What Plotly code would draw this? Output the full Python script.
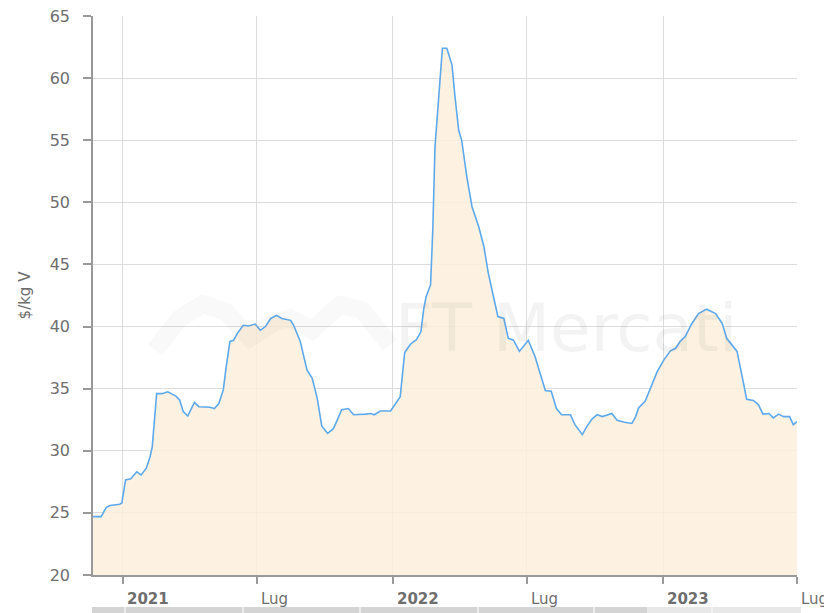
import plotly.graph_objects as go

# ---- data ----
dates = [
    "2020-11-22", "2020-12-03", "2020-12-10", "2020-12-15", "2020-12-28", "2020-12-31",
    "2021-01-05", "2021-01-12", "2021-01-20", "2021-01-26", "2021-02-02", "2021-02-07",
    "2021-02-10", "2021-02-16", "2021-02-23", "2021-03-03", "2021-03-14", "2021-03-19",
    "2021-03-24", "2021-03-30", "2021-04-08", "2021-04-14", "2021-04-29", "2021-05-05",
    "2021-05-11", "2021-05-17", "2021-05-21", "2021-05-26", "2021-05-31", "2021-06-05",
    "2021-06-13", "2021-06-20", "2021-06-29", "2021-07-06", "2021-07-13", "2021-07-20",
    "2021-07-28", "2021-08-04", "2021-08-16", "2021-08-20", "2021-08-29", "2021-09-07",
    "2021-09-14", "2021-09-21", "2021-09-27", "2021-10-05", "2021-10-13", "2021-10-24",
    "2021-11-02", "2021-11-09", "2021-11-25", "2021-12-02", "2021-12-07", "2021-12-15",
    "2021-12-29", "2022-01-07", "2022-01-11", "2022-01-17", "2022-01-25", "2022-02-02",
    "2022-02-08", "2022-02-12", "2022-02-15", "2022-02-21", "2022-02-24", "2022-02-27",
    "2022-03-04", "2022-03-09", "2022-03-15", "2022-03-22", "2022-03-26", "2022-03-31",
    "2022-04-04", "2022-04-11", "2022-04-18", "2022-04-27", "2022-05-04", "2022-05-10",
    "2022-05-17", "2022-05-23", "2022-05-31", "2022-06-06", "2022-06-13", "2022-06-21",
    "2022-07-03", "2022-07-12", "2022-07-19", "2022-07-26", "2022-08-03", "2022-08-10",
    "2022-08-17", "2022-08-29", "2022-09-04", "2022-09-14", "2022-09-20", "2022-09-27",
    "2022-10-04", "2022-10-11", "2022-10-24", "2022-10-31", "2022-11-10", "2022-11-20",
    "2022-11-25", "2022-11-29", "2022-12-08", "2022-12-16", "2022-12-24", "2023-01-02",
    "2023-01-11", "2023-01-18", "2023-01-24", "2023-01-31", "2023-02-09", "2023-02-18",
    "2023-03-01", "2023-03-13", "2023-03-22", "2023-03-28", "2023-04-11", "2023-04-18",
    "2023-04-24", "2023-05-03", "2023-05-10", "2023-05-16", "2023-05-24", "2023-05-30",
    "2023-06-06", "2023-06-13", "2023-06-21", "2023-06-26", "2023-07-01",
]
prices = [
    24.7, 24.7, 25.45, 25.6, 25.7, 25.8,
    27.65, 27.75, 28.3, 28.05, 28.6, 29.5,
    30.3, 34.6, 34.6, 34.75, 34.4, 34.1,
    33.15, 32.8, 33.9, 33.55, 33.5, 33.4,
    33.8, 34.9, 36.8, 38.8, 38.9, 39.45,
    40.1, 40.05, 40.2, 39.7, 40.0, 40.65,
    40.9, 40.65, 40.5, 40.1, 38.8, 36.5,
    35.85, 34.2, 32.0, 31.4, 31.8, 33.3,
    33.4, 32.9, 32.95, 33.0, 32.9, 33.2,
    33.2, 33.95, 34.35, 37.9, 38.6, 38.95,
    39.6, 41.5, 42.4, 43.35, 47.8, 54.5,
    58.5, 62.4, 62.4, 61.05, 58.5, 55.8,
    55.0, 52.05, 49.65, 48.05, 46.45, 44.3,
    42.4, 40.8, 40.65, 39.05, 38.9, 38.0,
    38.9, 37.6, 36.25, 34.85, 34.8, 33.4,
    32.9, 32.9, 32.1, 31.3, 31.95, 32.55,
    32.9, 32.75, 33.0, 32.45, 32.3, 32.2,
    32.75, 33.45, 34.0, 35.2, 36.35, 37.3,
    38.05, 38.25, 38.8, 39.2, 40.25, 41.05,
    41.4, 41.05, 40.25, 39.05, 38.0, 35.95,
    34.15, 34.05, 33.7, 32.95, 33.0, 32.65,
    32.95, 32.75, 32.75, 32.1, 32.35,
]

tick_dates = ["2021-01-01", "2021-07-01", "2022-01-01", "2022-07-01", "2023-01-01", "2023-07-01"]
tick_labels = ["<b>2021</b>", "Lug", "<b>2022</b>", "Lug", "<b>2023</b>", "Lug"]
y_ticks = [20, 25, 30, 35, 40, 45, 50, 55, 60, 65]

x_range = ["2020-11-22", "2023-07-01"]
y_range = [20, 65]

label_color = "#6e6e6e"
font_family = "DejaVu Sans, Verdana, sans-serif"

# page has an 8px body margin -> figure offset by 8px
OFF = 8
W, H = 824, 605
ML, MR, MT, MB = 85, 35, 8, 38
PW, PH = W - ML - MR, H - MT - MB


def px_x(p):  # page pixel -> paper x
    return (p - OFF - ML) / PW


def px_y(p):  # page pixel -> paper y
    return (H - MB - (p - OFF)) / PH


fig = go.Figure()
fig.add_trace(go.Scatter(
    x=dates, y=prices, mode="lines",
    line=dict(color="#5ea9ec", width=1.6),
    fill="tozeroy", fillcolor="rgba(253,240,220,0.85)",
    hoverinfo="x+y", showlegend=False,
))

# tick labels placed to the right of each tick (Highcharts style)
annotations = []
for d, t in zip(tick_dates, tick_labels):
    annotations.append(dict(
        x=d, xref="x", y=px_y(588), yref="paper", yanchor="top",
        xanchor="left", xshift=2, text=t, showarrow=False,
        font=dict(size=15, color=label_color, family=font_family),
    ))

# watermark
annotations.append(dict(
    x=px_x(566), xref="paper", xanchor="center",
    y=px_y(328), yref="paper", yanchor="middle",
    text="FT Mercati", showarrow=False,
    font=dict(size=66, color="rgba(120,120,120,0.09)", family=font_family),
))

fig.update_layout(
    width=W, height=H,
    margin=dict(l=ML, r=MR, t=MT, b=MB),
    paper_bgcolor="white", plot_bgcolor="white",
    font=dict(family=font_family, color=label_color),
    annotations=annotations,
    xaxis=dict(
        type="date", range=x_range, automargin=False,
        tickvals=tick_dates, ticktext=[""] * len(tick_dates),
        showgrid=True, gridcolor="#dcdcdc", gridwidth=1,
        showline=True, linecolor="#999999", linewidth=1.5,
        ticks="outside", ticklen=7, tickcolor="#999999", tickwidth=1.5,
        zeroline=False,
    ),
    yaxis=dict(
        range=y_range, tickvals=y_ticks, automargin=False,
        showgrid=True, gridcolor="#dcdcdc", gridwidth=1,
        showline=True, linecolor="#999999", linewidth=1.5,
        ticks="outside", ticklen=8, tickcolor="#999999", tickwidth=1.5,
        ticklabelstandoff=10, ticklabeloverflow="allow",
        tickfont=dict(size=16, color=label_color, family=font_family),
        title=dict(text="$/kg V", font=dict(size=15, color=label_color, family=font_family), standoff=15),
        zeroline=False,
    ),
)

# watermark mountains + navigator strip (decoration)
logo_pts = [(155, 350), (180, 318), (203, 304), (226, 312), (250, 338), (275, 322),
            (290, 318), (312, 330), (340, 305), (362, 310), (390, 345)]
path = "M " + " L ".join(f"{px_x(a)},{px_y(b)}" for a, b in logo_pts)
shapes = [
    dict(type="path", xref="paper", yref="paper", path=path,
         line=dict(color="rgba(120,120,120,0.045)", width=18), layer="above"),
    dict(type="rect", xref="paper", yref="paper", x0=px_x(92), x1=px_x(647),
         y0=px_y(607), y1=px_y(615), fillcolor="#d4d4d4", line=dict(width=0), layer="below"),
    dict(type="rect", xref="paper", yref="paper", x0=px_x(647), x1=px_x(801),
         y0=px_y(607), y1=px_y(615), fillcolor="#e8e8e8", line=dict(width=0), layer="below"),
]
for sx in [125, 243, 360, 478, 594, 712]:
    shapes.append(dict(type="line", xref="paper", yref="paper", x0=px_x(sx), x1=px_x(sx),
                       y0=px_y(607), y1=px_y(615), line=dict(color="#f4f4f4", width=1.5)))
fig.update_layout(shapes=shapes)

fig.write_html("out.html")
